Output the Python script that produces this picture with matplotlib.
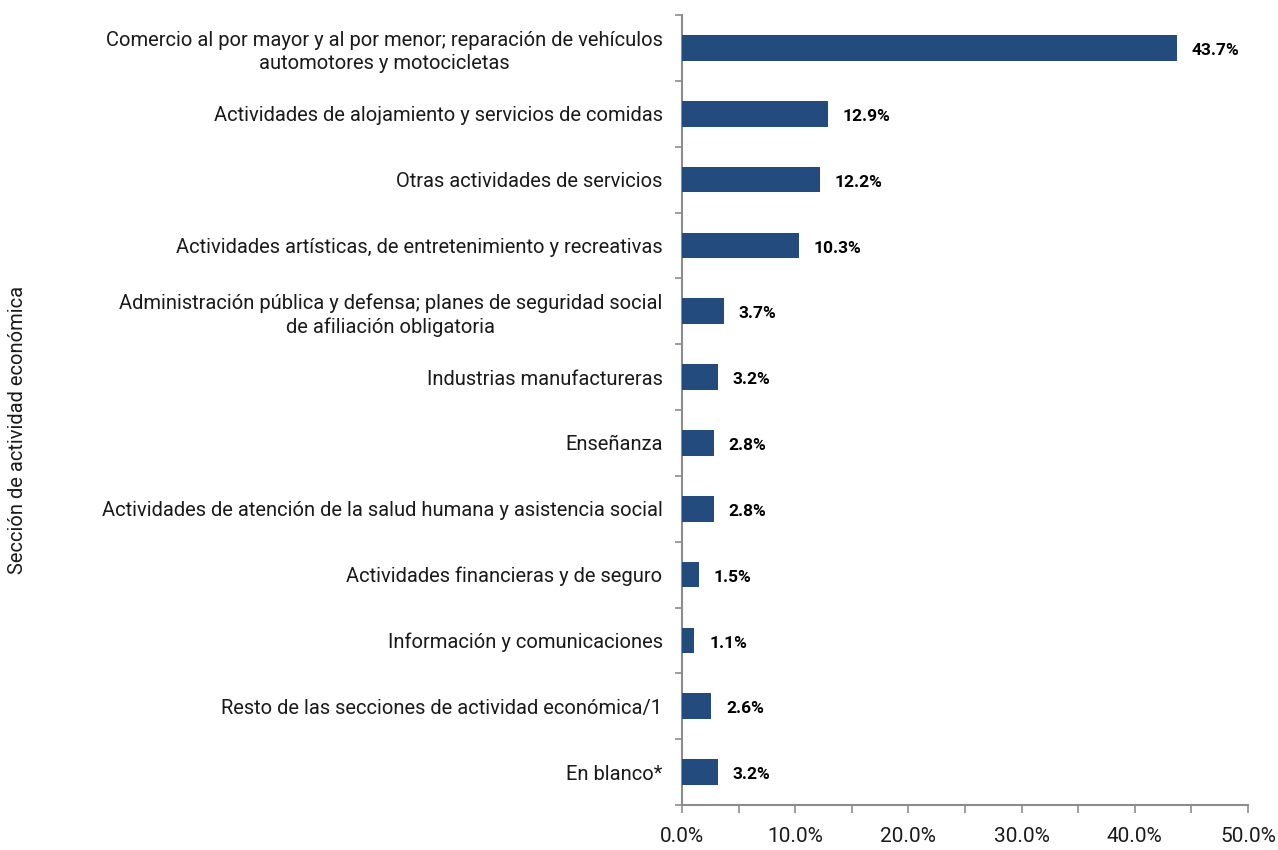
import matplotlib
matplotlib.use("Agg")
import matplotlib.pyplot as plt
import numpy as np
from matplotlib.ticker import MultipleLocator, FixedLocator

plt.rcParams['font.family'] = ['Roboto', 'DejaVu Sans']

categories = [
    "Comercio al por mayor y al por menor; reparación de vehículos\nautomotores y motocicletas",
    "Actividades de alojamiento y servicios de comidas",
    "Otras actividades de servicios",
    "Actividades artísticas, de entretenimiento y recreativas",
    "Administración pública y defensa; planes de seguridad social\nde afiliación obligatoria",
    "Industrias manufactureras",
    "Enseñanza",
    "Actividades de atención de la salud humana y asistencia social",
    "Actividades financieras y de seguro",
    "Información y comunicaciones",
    "Resto de las secciones de actividad económica/1",
    "En blanco*",
]
values = [43.7, 12.9, 12.2, 10.3, 3.7, 3.2, 2.8, 2.8, 1.5, 1.1, 2.6, 3.2]
xticks = [0, 10, 20, 30, 40, 50]
xtick_labels = ["0.0%", "10.0%", "20.0%", "30.0%", "40.0%", "50.0%"]
ylabel = "Sección de actividad económica"

fig = plt.figure(figsize=(12.78, 8.5), dpi=100)
ax = fig.add_axes([682/1278, 1-805/850, (1248-682)/1278, (805-15)/850])

n = len(categories)
y = np.arange(n)
bar_color = "#244B7D"
ax.barh(y, values, height=0.39, color=bar_color, zorder=3)
ax.set_ylim(n - 0.5, -0.5)
ax.set_xlim(0, 50)

for yi, v in zip(y, values):
    ax.text(v + 1.3, yi + 0.04, f"{v:.1f}%", va='center', ha='left',
            fontsize=12.5, fontweight='bold', color='black')

# y axis
ax.set_yticks(y)
ax.set_yticklabels(categories, fontsize=14.5, color='#1a1a1a', multialignment='center',
                   linespacing=1.3)
ax.tick_params(axis='y', which='major', length=0, pad=14)
ax.yaxis.set_minor_locator(FixedLocator(np.arange(-0.5, n, 1.0)))
ax.tick_params(axis='y', which='minor', length=5, width=1.2, color='#8c8c8c', direction='out')

# x axis
ax.xaxis.set_major_locator(FixedLocator(xticks))
ax.set_xticklabels(xtick_labels, fontsize=15, color='#1a1a1a')
ax.xaxis.set_minor_locator(MultipleLocator(5))
ax.tick_params(axis='x', which='both', length=6, width=1.2, color='#8c8c8c', pad=10)

for s in ['top', 'right']:
    ax.spines[s].set_visible(False)
for s in ['left', 'bottom']:
    ax.spines[s].set_color('#8c8c8c')
    ax.spines[s].set_linewidth(1.5)

fig.text(18/1278, 1-430/850, ylabel, rotation=90, va='center', ha='center',
         fontsize=14.5, color='#1a1a1a')

fig.savefig("out.png", dpi=100)
